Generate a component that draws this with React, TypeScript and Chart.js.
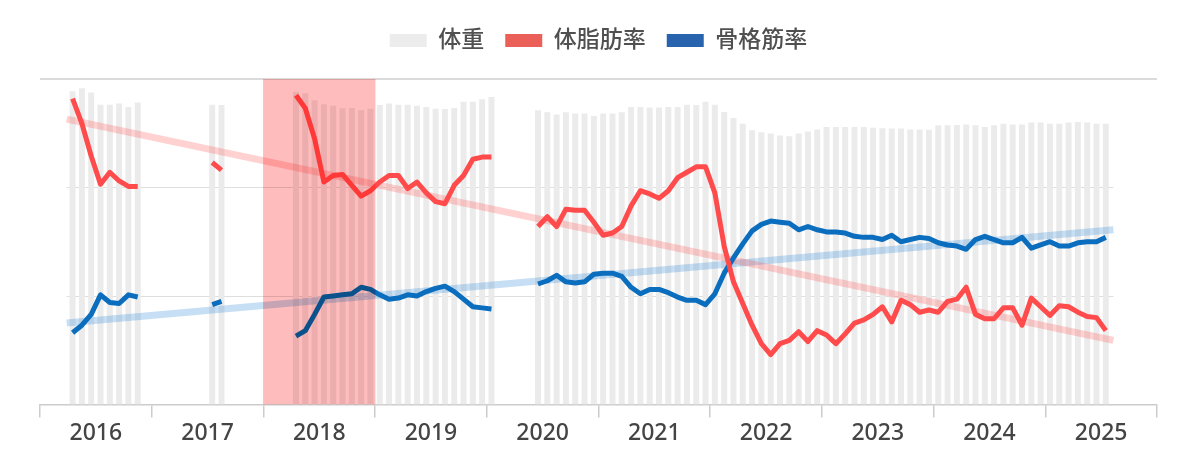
import { useEffect, useRef } from "react"
import { Chart, registerables, type ChartConfiguration, type Plugin } from "chart.js"

Chart.register(...registerables)

const FONT = '"Noto Sans", "Noto Sans CJK JP", sans-serif'

// year bands on the visible axis
const years = ["2016", "2017", "2018", "2019", "2020", "2021", "2022", "2023", "2024", "2025"]
const highlightYears = ["2018"]

// measured months (first, last) – gaps in between have no data
const periods: [string, string][] = [
  ["2016-04", "2016-11"],
  ["2017-07", "2017-08"],
  ["2018-04", "2020-01"],
  ["2020-06", "2025-07"],
]

// 体重 (kg)
const weight = [
  77.0, 77.7, 76.7, 73.7, 73.7, 74.0, 73.1, 74.2,
  73.7, 73.6,
  76.8, 76.5, 74.8, 73.8, 73.4, 72.8, 72.9, 72.3, 72.7, 73.6, 74.0, 73.7, 73.7, 73.4, 73.1, 72.7, 72.6, 72.9, 74.4, 74.4, 75.0, 75.6,
  72.3, 71.8, 71.3, 71.8, 71.5, 71.5, 70.9, 71.5, 71.5, 71.8, 73.1, 73.1, 73.0, 73.0, 73.1, 73.1, 73.7, 73.6, 74.4, 73.7,
  71.9, 70.4, 69.0, 67.4, 66.9, 66.6, 66.1, 65.9, 66.6, 67.1, 67.6, 68.2, 68.2, 68.2, 68.2, 68.2, 68.0, 67.9, 67.8, 67.8,
  67.6, 67.6, 67.5, 68.6, 68.6, 68.7, 68.8, 68.6, 68.2, 68.6, 69.0, 68.8, 68.8, 69.3, 69.3, 69.0, 69.0, 69.3, 69.4, 69.3,
  69.0, 69.0,
]

// 体脂肪率 (%)
const bodyFat = [
  38.2, 35.9, 32.9, 30.3, 31.4, 30.6, 30.1, 30.1,
  32.3, 31.6,
  38.5, 37.3, 34.5, 30.5, 31.1, 31.2, 30.2, 29.2, 29.7, 30.5, 31.1, 31.1, 29.9, 30.5, 29.5, 28.7, 28.5, 30.2, 31.1, 32.6, 32.8, 32.8,
  26.4, 27.3, 26.4, 28.0, 27.9, 27.9, 26.8, 25.6, 25.8, 26.4, 28.3, 29.7, 29.4, 29.0, 29.7, 30.9, 31.4, 31.9, 31.9, 29.5,
  24.6, 21.3, 19.3, 17.3, 15.6, 14.6, 15.6, 15.9, 16.7, 15.8, 16.8, 16.4, 15.6, 16.5, 17.5, 17.8, 18.3, 19.0, 17.6, 19.6,
  19.2, 18.5, 18.7, 18.5, 19.5, 19.7, 20.8, 18.3, 17.9, 17.9, 18.9, 18.9, 17.3, 19.8, 19.0, 18.2, 19.1, 19.0, 18.5, 18.1,
  18.0, 16.8,
]

// 骨格筋率 (%)
const muscle = [
  16.6, 17.3, 18.3, 20.1, 19.4, 19.3, 20.1, 19.9,
  19.2, 19.5,
  16.3, 16.8, 18.3, 19.9, 20.0, 20.1, 20.2, 20.8, 20.6, 20.1, 19.7, 19.8, 20.1, 20.0, 20.4, 20.7, 20.9, 20.4, 19.7, 19.0, 18.9, 18.8,
  21.1, 21.4, 21.9, 21.3, 21.2, 21.3, 22.0, 22.1, 22.1, 21.8, 20.8, 20.2, 20.6, 20.6, 20.3, 19.9, 19.6, 19.6, 19.2, 20.2,
  22.1, 23.5, 24.8, 26.0, 26.6, 26.9, 26.8, 26.7, 26.1, 26.4, 26.1, 25.9, 25.9, 25.8, 25.5, 25.4, 25.4, 25.2, 25.6, 25.0,
  25.2, 25.4, 25.3, 24.9, 24.7, 24.6, 24.3, 25.2, 25.5, 25.2, 24.9, 24.9, 25.4, 24.4, 24.7, 25.0, 24.6, 24.6, 24.9, 25.0,
  25.0, 25.4,
]

// trend line end points (month index from 2016-01, value)
const trendX = [2.37, 114.81]
const bodyFatTrend = [36.3, 15.9]
const muscleTrend = [17.5, 26.1]

// horizontal guide levels of the percentage axis
const gridLevels = [20, 30]

const legendColors = ["#ececec", "#ea5f58", "#2864ae"]

function monthIndex(s: string) {
  const [y, m] = s.split("-").map(Number)
  return (y - 2016) * 12 + (m - 1)
}

const monthX: number[] = periods.flatMap(([a, b]) => {
  const out: number[] = []
  for (let i = monthIndex(a); i <= monthIndex(b); i++) out.push(i)
  return out
})

const SHADE_INDEX = 5

const legendGap: Plugin = {
  id: "legendGap",
  beforeInit(chart) {
    const legend = chart.legend as any
    if (!legend) return
    const fit = legend.fit
    legend.fit = function () {
      fit.call(this)
      this.height += 17
    }
  },
}

const guideLines: Plugin = {
  id: "guideLines",
  beforeDatasetsDraw(chart) {
    const { ctx, chartArea, scales } = chart
    const x = scales.x
    const y = scales.y
    ctx.save()
    ctx.strokeStyle = "#cfcfcf"
    ctx.lineWidth = 1.5
    const top = y.getPixelForValue(y.max)
    ctx.beginPath()
    ctx.moveTo(chartArea.left, top)
    ctx.lineTo(chartArea.right, top)
    ctx.stroke()
    ctx.strokeStyle = "#dedede"
    ctx.lineWidth = 1
    const x0 = x.getPixelForValue(trendX[0])
    const x1 = x.getPixelForValue(trendX[trendX.length - 1])
    for (const v of gridLevels) {
      const py = Math.round(y.getPixelForValue(v)) + 0.5
      ctx.beginPath()
      ctx.moveTo(x0, py)
      ctx.lineTo(x1, py)
      ctx.stroke()
    }
    ctx.restore()
  },
}

const multiplyShade: Plugin = {
  id: "multiplyShade",
  beforeDatasetDraw(chart, args) {
    if (args.index === SHADE_INDEX) {
      chart.ctx.save()
      chart.ctx.globalCompositeOperation = "multiply"
    }
  },
  afterDatasetDraw(chart, args) {
    if (args.index === SHADE_INDEX) chart.ctx.restore()
  },
}

export default function App() {
  const canvasRef = useRef<HTMLCanvasElement>(null)

  useEffect(() => {
    if (!canvasRef.current) return
    const ctx = canvasRef.current.getContext("2d")
    if (!ctx) return

    const config: ChartConfiguration = {
      type: "bar",
      data: {
        datasets: [
          {
            type: "bar",
            label: "体重",
            data: monthX.map((x, i) => ({ x, y: weight[i] })),
            xAxisID: "x",
            yAxisID: "yW",
            backgroundColor: "#ebebeb",
            barPercentage: 0.64,
            categoryPercentage: 1,
            grouped: false,
            order: 5,
          },
          {
            type: "line",
            label: "体脂肪率",
            data: monthX.map((x, i) => ({ x, y: bodyFat[i] })),
            xAxisID: "x",
            yAxisID: "y",
            borderColor: "#ff4b4b",
            backgroundColor: "#ff4b4b",
            borderWidth: 5,
            borderJoinStyle: "round",
            pointRadius: 0,
            spanGaps: 1.5,
            tension: 0,
            order: 1,
          },
          {
            type: "line",
            label: "骨格筋率",
            data: monthX.map((x, i) => ({ x, y: muscle[i] })),
            xAxisID: "x",
            yAxisID: "y",
            borderColor: "#0b6dbd",
            backgroundColor: "#0b6dbd",
            borderWidth: 5,
            borderJoinStyle: "round",
            pointRadius: 0,
            spanGaps: 1.5,
            tension: 0,
            order: 2,
          },
          {
            type: "line",
            label: "体脂肪率トレンド",
            data: trendX.map((x, i) => ({ x, y: bodyFatTrend[i] })),
            xAxisID: "x",
            yAxisID: "y",
            borderColor: "rgba(255, 90, 90, 0.28)",
            borderWidth: 7,
            pointRadius: 0,
            order: 3,
          },
          {
            type: "line",
            label: "骨格筋率トレンド",
            data: trendX.map((x, i) => ({ x, y: muscleTrend[i] })),
            xAxisID: "x",
            yAxisID: "y",
            borderColor: "rgba(50, 140, 215, 0.28)",
            borderWidth: 7,
            pointRadius: 0,
            order: 4,
          },
          {
            type: "bar",
            label: "期間",
            data: years.map((y) => (highlightYears.includes(y) ? 1 : null)),
            xAxisID: "xYear",
            yAxisID: "yShade",
            backgroundColor: "#ffbcbc",
            barPercentage: 1,
            categoryPercentage: 1,
            grouped: false,
            order: -1,
          },
        ],
      },
      options: {
        responsive: true,
        maintainAspectRatio: false,
        animation: false,
        events: [],
        layout: { padding: { top: 0, left: 32, right: 35, bottom: 14 } },
        plugins: {
          tooltip: { enabled: false },
          legend: {
            position: "top",
            labels: {
              boxWidth: 37,
              boxHeight: 13,
              padding: 21,
              color: "#505050",
              font: { size: 23, family: FONT, weight: 500 },
              generateLabels: (chart) =>
                Chart.defaults.plugins.legend.labels
                  .generateLabels(chart)
                  .filter((l) => (l.datasetIndex ?? 99) < 3)
                  .map((l) => ({
                    ...l,
                    fillStyle: legendColors[l.datasetIndex as number],
                    strokeStyle: legendColors[l.datasetIndex as number],
                    lineWidth: 0,
                  })),
              sort: (a, b) => (a.datasetIndex ?? 0) - (b.datasetIndex ?? 0),
            },
          },
        },
        scales: {
          x: { type: "linear", min: -0.5, max: 119.5, offset: false, display: false },
          xYear: {
            type: "category",
            labels: years,
            position: "bottom",
            offset: true,
            grid: {
              offset: true,
              drawOnChartArea: false,
              tickLength: 13,
              color: "#cccccc",
              lineWidth: 1.5,
            },
            border: { color: "#cccccc", width: 1.5 },
            ticks: {
              color: "#444444",
              font: { size: 23, family: FONT, weight: 500 },
              padding: 2,
              maxRotation: 0,
              autoSkip: false,
            },
          },
          y: { type: "linear", min: 10, max: 40, display: false },
          yW: { type: "linear", min: 0, max: 80, display: false },
          yShade: { type: "linear", min: 0, max: 1, display: false },
        },
      },
      plugins: [legendGap, guideLines, multiplyShade],
    }

    const chart = new Chart(ctx, config)
    return () => chart.destroy()
  }, [])

  return (
    <div style={{ width: 1184, height: 455, position: "relative" }}>
      <canvas ref={canvasRef}></canvas>
    </div>
  )
}
